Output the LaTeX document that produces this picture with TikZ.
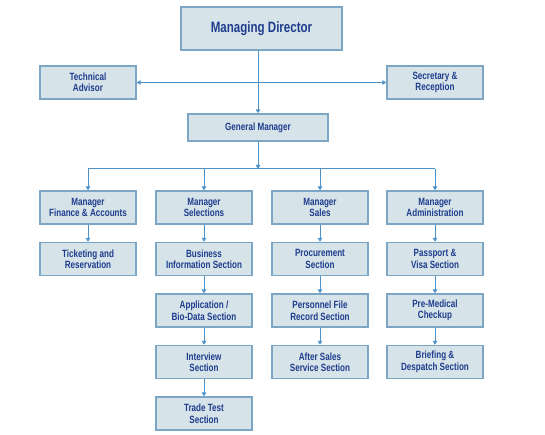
\documentclass[tikz,border=0pt]{standalone}
\usepackage{fontspec}
\setmainfont{Liberation Sans}[FakeStretch=0.77]
\usetikzlibrary{arrows.meta}
\definecolor{boxfill}{HTML}{D6E3E8}
\definecolor{boxline}{HTML}{7DA5C4}
\definecolor{txt}{HTML}{1F3D8E}
\definecolor{lnk}{HTML}{4C93CB}
\begin{document}
\begin{tikzpicture}[x=1pt,y=-1pt,
  box/.style={draw=boxline, line width=1.4pt, fill=boxfill, text=txt,
    font=\bfseries\fontsize{10.5}{11.5}\selectfont, align=center,
    minimum width=96pt, minimum height=33pt, inner sep=0pt},
  conn/.style={draw=lnk, line width=1pt},
  arr/.style={conn, -{Triangle[length=4pt,width=4.5pt]}},
  arrb/.style={conn, {Triangle[length=4pt,width=4.5pt]}-{Triangle[length=4pt,width=4.5pt]}}]
\useasboundingbox (0,0) rectangle (545,435);
\node[box, minimum width=161pt, minimum height=43pt, font=\bfseries\fontsize{15}{16}\selectfont] (md) at (261.5,28.5) {Managing Director};
\node[box] (ta) at (88,82.5) {Technical\\Advisor};
\node[box] (sr) at (435,82.5) {Secretary \&\\Reception};
\node[box, minimum width=140pt, minimum height=27pt] (gm) at (258,127.5) {General Manager};
\coordinate (bus) at (258,169);
% row 1
\node[box] (m1) at (88,207.5) {Manager\\Finance \& Accounts};
\node[box] (m2) at (204,207.5) {Manager\\Selections};
\node[box] (m3) at (320,207.5) {Manager\\Sales};
\node[box] (m4) at (435,207.5) {Manager\\Administration};
% row 2
\node[box] (a2) at (88,259) {Ticketing and\\Reservation};
\node[box] (b2) at (204,259) {Business\\Information Section};
\node[box] (c2) at (320,259) {Procurement\\Section};
\node[box] (d2) at (435,259) {Passport \&\\Visa Section};
% row 3
\node[box] (b3) at (204,310.5) {Application /\\Bio-Data Section};
\node[box] (c3) at (320,310.5) {Personnel File\\Record Section};
\node[box] (d3) at (435,310.5) {Pre-Medical\\Checkup};
% row 4
\node[box] (b4) at (204,362) {Interview\\Section};
\node[box] (c4) at (320,362) {After Sales\\Service Section};
\node[box] (d4) at (435,362) {Briefing \&\\Despatch Section};
% row 5
\node[box] (b5) at (204,413.5) {Trade Test\\Section};
% connectors
\draw[arrb] (ta.east) -- (sr.west);
\draw[arr] (md.south -| gm.north) -- (gm.north);
\draw[arr] (gm.south) -- (bus);
\draw[conn] (m1.north |- bus) -- (m4.north |- bus);
\foreach \n in {m1,m2,m3,m4} {\draw[arr] (\n.north |- bus) -- (\n.north);}
\draw[arr] (m1) -- (a2);
\draw[arr] (m2) -- (b2);
\draw[arr] (b2) -- (b3);
\draw[arr] (b3) -- (b4);
\draw[arr] (b4) -- (b5);
\draw[arr] (m3) -- (c2);
\draw[arr] (c2) -- (c3);
\draw[arr] (c3) -- (c4);
\draw[arr] (m4) -- (d2);
\draw[arr] (d2) -- (d3);
\draw[arr] (d3) -- (d4);
\end{tikzpicture}
\end{document}
